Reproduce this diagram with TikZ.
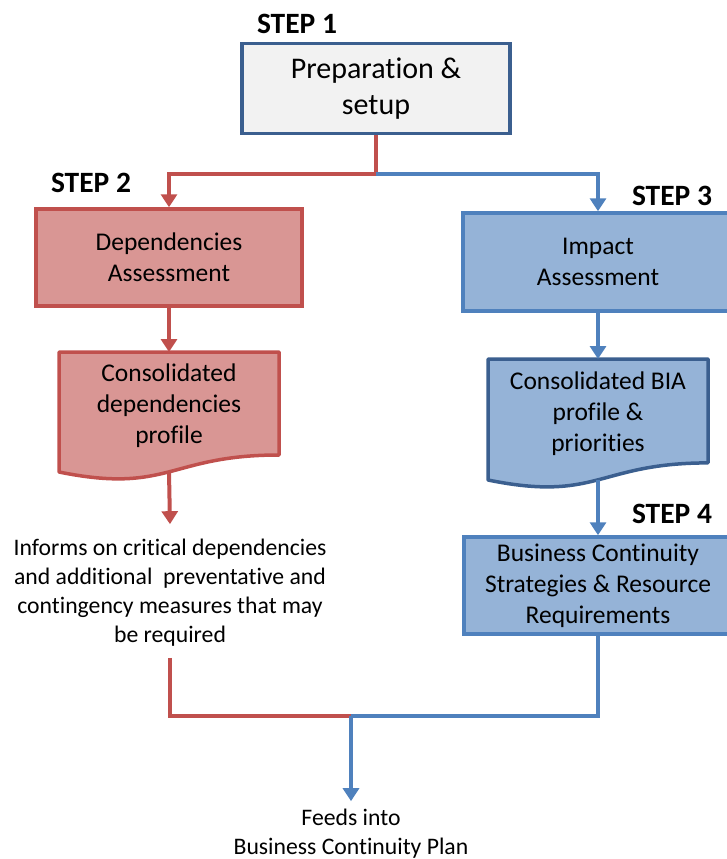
\documentclass[tikz,border=0pt]{standalone}
\usepackage{fontspec}
\setmainfont{Carlito}[Ligatures=NoCommon]
\usetikzlibrary{arrows.meta,calc}
\definecolor{redB}{HTML}{C0504D}
\definecolor{redF}{HTML}{D99694}
\definecolor{blueB}{HTML}{4F81BD}
\definecolor{blueF}{HTML}{95B3D7}
\definecolor{darkB}{HTML}{3B5F8F}
\definecolor{grayF}{HTML}{F2F2F2}
\begin{document}
\begin{tikzpicture}[x=1pt,y=-1pt,
  boxnode/.style={rectangle, draw, line width=3.5pt, align=center, inner sep=0pt},
  boxfont/.style={font=\fontsize{25.5}{31}\selectfont},
  steplabel/.style={font=\fontsize{29.5}{33}\selectfont\bfseries, inner sep=0pt},
  plaintext/.style={align=center, inner sep=0pt, font=\fontsize{23.7}{29}\selectfont},
  redline/.style={draw=redB, line width=4pt},
  blueline/.style={draw=blueB, line width=4pt},
  tip/.style={-{Triangle[width=16pt,length=13pt]}},
  docshape/.style={line width=3.5pt, line join=round}
]
\useasboundingbox (0,0) rectangle (727,859);
\clip (0,0) rectangle (727,859);

% step labels
\node[steplabel] (s1) at (297,24) {STEP 1};
\node[steplabel] (s2) at (91,183) {STEP 2};
\node[steplabel] (s3) at (672,196) {STEP 3};
\node[steplabel] (s4) at (672,514) {STEP 4};

% boxes
\node[boxnode, draw=darkB, fill=grayF, minimum width=268pt, minimum height=90pt,
      font=\fontsize{30}{36}\selectfont] (b1) at (376,88.5) {Preparation \&\\setup};
\node[boxnode, boxfont, draw=redB, fill=redF, minimum width=266pt, minimum height=97pt]
      (b2) at (169,257.5) {Dependencies\\Assessment};
\node[boxnode, boxfont, draw=blueB, fill=blueF, minimum width=270pt, minimum height=98pt]
      (b3) at (598,262) {Impact\\Assessment};
\node[boxnode, boxfont, draw=blueB, fill=blueF, minimum width=268pt, minimum height=97pt]
      (b4) at (598,585.5) {Business Continuity\\Strategies \& Resource\\Requirements};

% document shapes
\coordinate (d2top) at (169,352);
\coordinate (d2bot) at (169,472);
\filldraw[docshape, draw=redB, fill=redF]
  (59,352) -- (279,352) -- (279,455)
  .. controls (169,455) and (169,494.3) .. (59,472) -- cycle;
\node[boxfont, align=center, inner sep=0pt] (d2) at (169,406) {Consolidated\\dependencies\\profile};

\coordinate (d3top) at (598,359);
\coordinate (d3bot) at (598,480);
\filldraw[docshape, draw=darkB, fill=blueF]
  (488,359) -- (708,359) -- (708,462.9)
  .. controls (598,462.9) and (598,502.4) .. (488,480) -- cycle;
\node[boxfont, align=center, inner sep=0pt] (d3) at (598,414) {Consolidated BIA\\profile \&\\priorities};

% free texts
\node[plaintext] (inf) at (170,593) {Informs on critical dependencies\\and additional\ \ preventative and\\contingency measures that may\\be required};
\node[plaintext] (feeds) at (351,834) {Feeds into\\Business Continuity Plan};

% connectors
\coordinate (j1) at (376,174);
\draw[redline, tip] (b1.south) -- (j1) -| (b2.north);
\draw[blueline, tip] (j1) -| (b3.north);
\draw[redline, tip] (b2.south) -- (d2top);
\draw[blueline, tip] (b3.south) -- (d3top);
\draw[redline, tip, shorten >=1pt] (d2bot) -- ($(inf.north)+(0,-14)$);
\draw[blueline, tip] (d3bot) -- (b4.north);

\coordinate (j2) at (351,716);
\draw[redline] ($(inf.south)+(0,11)$) |- (j2);
\draw[blueline] (b4.south) |- (j2);
\draw[blueline, tip] (j2) -- ($(feeds.north)+(0,-8)$);
\end{tikzpicture}
\end{document}
